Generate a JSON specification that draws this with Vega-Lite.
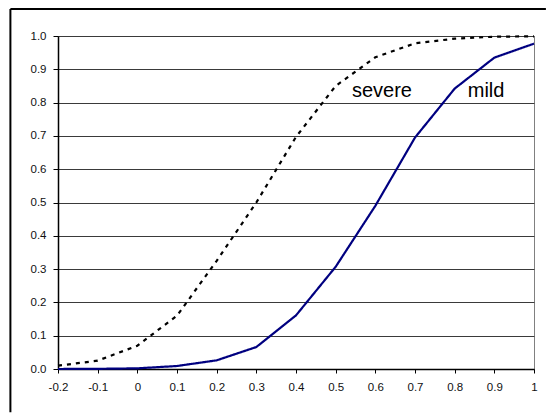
{
  "$schema": "https://vega.github.io/schema/vega-lite/v6.json",
  "autosize": {"type": "none"},
  "width": 476,
  "height": 333,
  "padding": {"left": 58, "top": 36, "right": 16, "bottom": 47},
  "background": "white",
  "config": {
    "font": "Liberation Sans",
    "view": {"stroke": "#808080", "strokeWidth": 1}
  },
  "datasets": {
    "curves": [
      {"x": -0.2, "y": 0.0, "series": "mild"},
      {"x": -0.1, "y": 0.0005, "series": "mild"},
      {"x": 0.0, "y": 0.002, "series": "mild"},
      {"x": 0.1, "y": 0.009, "series": "mild"},
      {"x": 0.2, "y": 0.026, "series": "mild"},
      {"x": 0.3, "y": 0.066, "series": "mild"},
      {"x": 0.4, "y": 0.161, "series": "mild"},
      {"x": 0.5, "y": 0.307, "series": "mild"},
      {"x": 0.6, "y": 0.49, "series": "mild"},
      {"x": 0.7, "y": 0.695, "series": "mild"},
      {"x": 0.8, "y": 0.842, "series": "mild"},
      {"x": 0.9, "y": 0.935, "series": "mild"},
      {"x": 1.0, "y": 0.977, "series": "mild"},
      {"x": -0.2, "y": 0.01, "series": "severe"},
      {"x": -0.1, "y": 0.025, "series": "severe"},
      {"x": 0.0, "y": 0.07, "series": "severe"},
      {"x": 0.1, "y": 0.16, "series": "severe"},
      {"x": 0.2, "y": 0.325, "series": "severe"},
      {"x": 0.3, "y": 0.5, "series": "severe"},
      {"x": 0.4, "y": 0.697, "series": "severe"},
      {"x": 0.5, "y": 0.85, "series": "severe"},
      {"x": 0.6, "y": 0.936, "series": "severe"},
      {"x": 0.7, "y": 0.978, "series": "severe"},
      {"x": 0.8, "y": 0.992, "series": "severe"},
      {"x": 0.9, "y": 0.998, "series": "severe"},
      {"x": 1.0, "y": 0.999, "series": "severe"}
    ],
    "labels": [
      {"label": "severe", "x": 0.541, "y": 0.818},
      {"label": "mild", "x": 0.833, "y": 0.818}
    ],
    "frame": [{"frame": "outer"}]
  },
  "layer": [
    {
      "data": {"name": "frame"},
      "mark": {"type": "rule", "color": "#000000", "strokeWidth": 2, "clip": false},
      "encoding": {
        "x": {
          "datum": -0.32, "type": "quantitative",
          "scale": {"domain": [-0.2, 1], "nice": false, "zero": false},
          "axis": {
            "values": [-0.2, -0.1, 0, 0.1, 0.2, 0.3, 0.4, 0.5, 0.6, 0.7, 0.8, 0.9, 1],
            "labelExpr": "toString(round(datum.value*10)/10)",
            "title": null, "grid": false,
            "domainColor": "#000000", "domainWidth": 1.5,
            "tickColor": "#000000", "tickSize": 4, "tickWidth": 1,
            "labelFontSize": 11.5, "labelColor": "#111111", "labelPadding": 8,
            "labelFont": "Liberation Sans", "labelFlush": false, "labelOverlap": false
          }
        },
        "x2": {"datum": 1.03},
        "y": {
          "datum": 1.081, "type": "quantitative",
          "scale": {"domain": [0, 1], "nice": false},
          "axis": {
            "values": [0, 0.1, 0.2, 0.3, 0.4, 0.5, 0.6, 0.7, 0.8, 0.9, 1],
            "format": ".1f",
            "title": null, "grid": true, "gridColor": "#3a3a3a", "gridWidth": 1, "gridOpacity": 1,
            "domainColor": "#000000", "domainWidth": 1.5,
            "tickColor": "#000000", "tickSize": 5, "tickWidth": 1,
            "labelFontSize": 11.5, "labelColor": "#111111", "labelPadding": 7,
            "labelFont": "Liberation Sans", "labelOverlap": false, "labelFlush": false
          }
        }
      }
    },
    {
      "data": {"name": "frame"},
      "mark": {"type": "rule", "color": "#000000", "strokeWidth": 2, "clip": false},
      "encoding": {
        "x": {
          "datum": -0.32, "type": "quantitative",
          "axis": {
            "values": [-0.2, -0.1, 0, 0.1, 0.2, 0.3, 0.4, 0.5, 0.6, 0.7, 0.8, 0.9, 1],
            "labelExpr": "toString(round(datum.value*10)/10)",
            "title": null, "grid": false,
            "domainColor": "#000000", "domainWidth": 1.5,
            "tickColor": "#000000", "tickSize": 4, "tickWidth": 1,
            "labelFontSize": 11.5, "labelColor": "#111111", "labelPadding": 8,
            "labelFont": "Liberation Sans", "labelFlush": false, "labelOverlap": false
          }
        },
        "y": {
          "datum": 1.081, "type": "quantitative",
          "axis": {
            "values": [0, 0.1, 0.2, 0.3, 0.4, 0.5, 0.6, 0.7, 0.8, 0.9, 1],
            "format": ".1f",
            "title": null, "grid": true, "gridColor": "#3a3a3a", "gridWidth": 1, "gridOpacity": 1,
            "domainColor": "#000000", "domainWidth": 1.5,
            "tickColor": "#000000", "tickSize": 5, "tickWidth": 1,
            "labelFontSize": 11.5, "labelColor": "#111111", "labelPadding": 7,
            "labelFont": "Liberation Sans", "labelOverlap": false, "labelFlush": false
          }
        },
        "y2": {"datum": -0.13}
      }
    },
    {
      "data": {"name": "curves"},
      "mark": {"type": "line", "strokeWidth": 2.2, "clip": false},
      "encoding": {
        "x": {
          "field": "x", "type": "quantitative",
          "scale": {"domain": [-0.2, 1], "nice": false, "zero": false},
          "axis": {
            "values": [-0.2, -0.1, 0, 0.1, 0.2, 0.3, 0.4, 0.5, 0.6, 0.7, 0.8, 0.9, 1],
            "labelExpr": "toString(round(datum.value*10)/10)",
            "title": null, "grid": false,
            "domainColor": "#000000", "domainWidth": 1.5,
            "tickColor": "#000000", "tickSize": 4, "tickWidth": 1,
            "labelFontSize": 11.5, "labelColor": "#111111", "labelPadding": 8,
            "labelFont": "Liberation Sans", "labelFlush": false, "labelOverlap": false
          }
        },
        "y": {
          "field": "y", "type": "quantitative",
          "scale": {"domain": [0, 1], "nice": false},
          "axis": {
            "values": [0, 0.1, 0.2, 0.3, 0.4, 0.5, 0.6, 0.7, 0.8, 0.9, 1],
            "format": ".1f",
            "title": null, "grid": true, "gridColor": "#3a3a3a", "gridWidth": 1, "gridOpacity": 1,
            "domainColor": "#000000", "domainWidth": 1.5,
            "tickColor": "#000000", "tickSize": 5, "tickWidth": 1,
            "labelFontSize": 11.5, "labelColor": "#111111", "labelPadding": 7,
            "labelFont": "Liberation Sans", "labelOverlap": false, "labelFlush": false
          }
        },
        "color": {
          "field": "series", "type": "nominal",
          "scale": {"domain": ["mild", "severe"], "range": ["#000080", "#000000"]},
          "legend": null
        },
        "strokeDash": {
          "field": "series", "type": "nominal",
          "scale": {"domain": ["mild", "severe"], "range": [[1, 0], [4, 5]]},
          "legend": null
        }
      }
    },
    {
      "data": {"name": "labels"},
      "mark": {"type": "text", "align": "left", "baseline": "alphabetic", "fontSize": 20, "font": "Liberation Sans", "color": "#000000"},
      "encoding": {
        "x": {
          "field": "x", "type": "quantitative",
          "axis": {
            "values": [-0.2, -0.1, 0, 0.1, 0.2, 0.3, 0.4, 0.5, 0.6, 0.7, 0.8, 0.9, 1],
            "labelExpr": "toString(round(datum.value*10)/10)",
            "title": null, "grid": false,
            "domainColor": "#000000", "domainWidth": 1.5,
            "tickColor": "#000000", "tickSize": 4, "tickWidth": 1,
            "labelFontSize": 11.5, "labelColor": "#111111", "labelPadding": 8,
            "labelFont": "Liberation Sans", "labelFlush": false, "labelOverlap": false
          }
        },
        "y": {
          "field": "y", "type": "quantitative",
          "axis": {
            "values": [0, 0.1, 0.2, 0.3, 0.4, 0.5, 0.6, 0.7, 0.8, 0.9, 1],
            "format": ".1f",
            "title": null, "grid": true, "gridColor": "#3a3a3a", "gridWidth": 1, "gridOpacity": 1,
            "domainColor": "#000000", "domainWidth": 1.5,
            "tickColor": "#000000", "tickSize": 5, "tickWidth": 1,
            "labelFontSize": 11.5, "labelColor": "#111111", "labelPadding": 7,
            "labelFont": "Liberation Sans", "labelOverlap": false, "labelFlush": false
          }
        },
        "text": {"field": "label"}
      }
    }
  ]
}
